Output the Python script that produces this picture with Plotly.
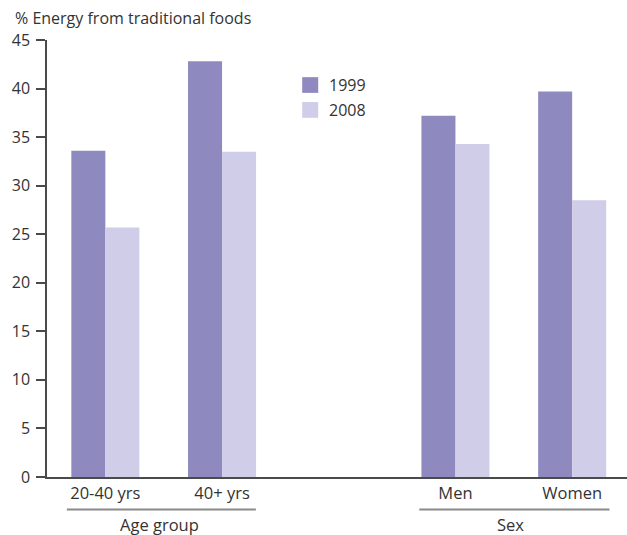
import plotly.graph_objects as go

# Share of energy from traditional foods, by age group and sex
categories = ["20-40 yrs", "40+ yrs", "Men", "Women"]
positions = [0, 1, 3, 4]          # slot 2 left empty between the two groups
series_names = ["1999", "2008"]
values_1999 = [33.6, 42.8, 37.2, 39.7]
values_2008 = [25.7, 33.5, 34.3, 28.5]
group_labels = ["Age group", "Sex"]
group_spans = [(-0.33, 1.29), (2.69, 4.32)]
group_label_x = [0.465, 3.47]
y_ticks = [0, 5, 10, 15, 20, 25, 30, 35, 40, 45]

colors = ["#8e8ac0", "#d0cde8"]
FONT = "Open Sans"
TEXT = "#333333"
AXIS = "#4a4a4a"

fig = go.Figure()
for name, vals, col in zip(series_names, [values_1999, values_2008], colors):
    fig.add_trace(go.Bar(x=positions, y=vals, name=name, marker_color=col,
                         marker_line_width=0, showlegend=False))

# Legend swatches and labels
for i, (name, col) in enumerate(zip(series_names, colors)):
    y0 = 0.915 - i * 0.057
    fig.add_shape(type="rect", xref="paper", yref="paper",
                  x0=0.440, x1=0.4676, y0=y0 - 0.036, y1=y0,
                  fillcolor=col, line_width=0)
    fig.add_annotation(xref="paper", yref="paper", x=0.482, y=y0 - 0.018,
                       text=name, showarrow=False, xanchor="left", yanchor="middle",
                       font=dict(family=FONT, size=16, color=TEXT))

# Group brackets under the category labels
for label, (a, b), lx in zip(group_labels, group_spans, group_label_x):
    fig.add_shape(type="line", xref="x", yref="paper", x0=a, x1=b,
                  y0=-0.0743, y1=-0.0743, line=dict(color="#8a8a8a", width=2))
    fig.add_annotation(xref="x", yref="paper", x=lx, y=-0.109, text=label,
                       showarrow=False, xanchor="center", yanchor="middle",
                       font=dict(family=FONT, size=16.5, color=TEXT))

# Axis title placed above the y axis
fig.add_annotation(xref="paper", yref="paper", x=-0.0586, y=1.050,
                   text="% Energy from traditional foods", showarrow=False,
                   xanchor="left", yanchor="middle",
                   font=dict(family=FONT, size=16, color=TEXT))

fig.update_layout(
    width=627, height=535,
    margin=dict(l=47, r=0, t=40, b=57.5),
    paper_bgcolor="white", plot_bgcolor="white",
    barmode="group", bargap=0.417, bargroupgap=0,
    font=dict(family=FONT, size=16, color=TEXT),
    xaxis=dict(range=[-0.5, 4.47], tickvals=positions, ticktext=categories,
               showline=True, linecolor=AXIS, linewidth=1.5, ticks="",
               showgrid=False, zeroline=False,
               tickfont=dict(family=FONT, size=16.5, color=TEXT)),
    yaxis=dict(range=[0, 45], tickvals=y_ticks, showline=True, linecolor=AXIS,
               linewidth=1.5, ticks="outside", ticklen=9, tickwidth=1.5,
               tickcolor=AXIS, showgrid=False, zeroline=False,
               ticklabelstandoff=3,
               tickfont=dict(family=FONT, size=16, color=TEXT)),
)

fig.write_html("out.html")
